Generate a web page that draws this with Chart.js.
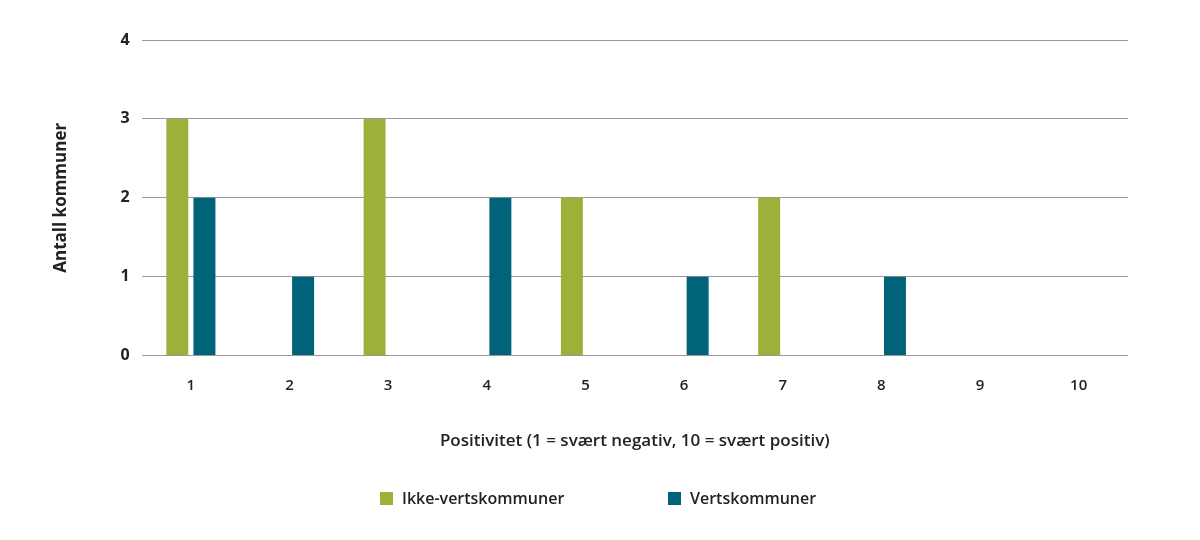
<!DOCTYPE html>
<html>
<head>
<meta charset="utf-8">
<script src="https://cdn.jsdelivr.net/npm/chart.js@4/dist/chart.umd.min.js"></script>
<style>
  html,body{margin:0;padding:0;background:#fff;}
  #wrap{position:relative;width:1200px;height:540px;}
  #legend{position:absolute;top:486px;left:0;width:1200px;height:24px;font:600 16px "Open Sans","Noto Sans",sans-serif;color:#222;}
  #legend span.item{position:absolute;top:0;line-height:24px;white-space:nowrap;}
  #legend i{display:inline-block;width:13px;height:13px;margin-right:9px;vertical-align:-1px;}
</style>
</head>
<body>
<div id="wrap">
  <canvas id="chart" width="1200" height="540"></canvas>
  <div id="legend"></div>
</div>
<script>
// positivity scale 1..10
const categories = ['1','2','3','4','5','6','7','8','9','10'];
const ikkeVerts = [3, 0, 3, 0, 2, 0, 2, 0, 0, 0];
const verts     = [2, 1, 0, 2, 0, 1, 0, 1, 0, 0];
const yTicks = [0, 1, 2, 3, 4];
const seriesNames = ['Ikke-vertskommuner', 'Vertskommuner'];

const green = '#9fb03a';
const teal = '#00637a';
const fontFam = '"Open Sans", "Noto Sans", sans-serif';

const chart = new Chart(document.getElementById('chart').getContext('2d'), {
  type: 'bar',
  data: {
    labels: categories,
    datasets: [
      {label:seriesNames[0], data:ikkeVerts, backgroundColor:green, categoryPercentage:0.55, barPercentage:0.81},
      {label:seriesNames[1], data:verts, backgroundColor:teal, categoryPercentage:0.55, barPercentage:0.81}
    ]
  },
  options: {
    responsive:false,
    animation:false,
    layout:{padding:{top:40,left:47,right:72,bottom:77}},
    scales:{
      x:{
        grid:{display:false},
        border:{display:false},
        ticks:{color:'#222',padding:13,font:{family:fontFam,size:15,weight:'600'}},
        title:{display:true,text:'Positivitet (1 = svært negativ, 10 = svært positiv)',color:'#222',
          padding:{top:23,bottom:12},font:{family:fontFam,size:17,weight:'600'}}
      },
      y:{
        min:0, max:4,
        afterBuildTicks: ax => { ax.ticks = yTicks.map(v => ({value:v})); },
        grid:{color:'#999',lineWidth:1,drawTicks:false},
        border:{display:false},
        ticks:{color:'#222',padding:12,font:{family:fontFam,size:16,weight:'700'}},
        title:{display:true,text:'Antall kommuner',color:'#222',padding:{bottom:37},
          font:{family:fontFam,size:17,weight:'700'}}
      }
    },
    plugins:{
      legend:{display:false},
      tooltip:{enabled:false}
    }
  }
});

// simple html legend from the dataset colours
const legendX = [380, 668];
document.getElementById('legend').innerHTML = chart.data.datasets.map((ds, i) =>
  `<span class="item" style="left:${legendX[i]}px"><i style="background:${ds.backgroundColor}"></i>${ds.label}</span>`
).join('');
</script>
</body>
</html>
